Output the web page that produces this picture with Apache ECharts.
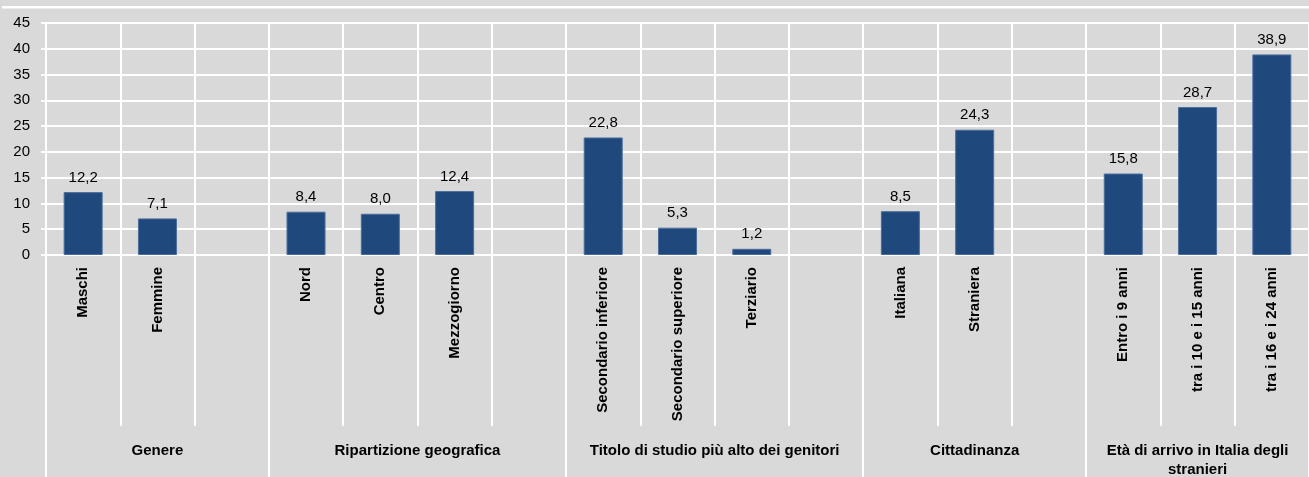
<!DOCTYPE html>
<html>
<head>
<meta charset="utf-8">
<script src="https://cdn.jsdelivr.net/npm/echarts@6/dist/echarts.min.js"></script>
<style>
  html, body { margin: 0; padding: 0; background: #d9d9d9; }
  #m1 { width: 1309px; height: 477px; }
</style>
</head>
<body>
<div id="m1"></div>
<script>
// dati del grafico (valori in %), '' = colonna vuota tra i gruppi
var categories = ['Maschi', 'Femmine', '',
    'Nord', 'Centro', 'Mezzogiorno', '',
    'Secondario inferiore', 'Secondario superiore', 'Terziario', '',
    'Italiana', 'Straniera', '',
    'Entro i 9 anni', 'tra i 10 e i 15 anni', 'tra i 16 e i 24 anni'];
var values = [12.2, 7.1, null,
    8.4, 8.0, 12.4, null,
    22.8, 5.3, 1.2, null,
    8.5, 24.3, null,
    15.8, 28.7, 38.9];
var groupNames = ['Genere', 'Ripartizione geografica', 'Titolo di studio più alto dei genitori',
    'Cittadinanza', 'Età di arrivo in Italia degli\nstranieri'];
var groupSizes = [3, 4, 4, 3, 3];   // colonne per gruppo
var yTicks = [0, 5, 10, 15, 20, 25, 30, 35, 40, 45];

var FONT = "'Liberation Sans', Arial, sans-serif";

// asse dei gruppi: mezze colonne, senza boundaryGap
// l'etichetta del gruppo va al centro del gruppo, i tick ai bordi
var halfSlots = [];
var groupTicks = {};
for (var i = 0; i <= categories.length * 2; i++) halfSlots.push('');
var start = 0;
groupTicks[0] = true;
groupSizes.forEach(function (n, g) {
    halfSlots[start * 2 + n] = groupNames[g];
    start += n;
    groupTicks[start * 2] = true;
});

var myChart = echarts.init(document.getElementById('m1'));
var option = {
    backgroundColor: '#d9d9d9',
    animation: false,
    textStyle: { fontFamily: FONT },
    grid: {
        left: 46,
        right: 0,
        top: 23,
        bottom: 222,
        outerBoundsMode: 'none'
    },
    xAxis: [{
        type: 'category',
        data: categories,
        axisLine: { show: true, lineStyle: { color: '#ffffff', width: 2 } },
        axisTick: { show: true, interval: 0, length: 171, lineStyle: { color: '#ffffff', width: 2 } },
        splitLine: { show: true, interval: 0, lineStyle: { color: '#ffffff', width: 2 } },
        axisLabel: {
            interval: 0,
            rotate: 90,
            margin: 12,
            color: '#000',
            fontFamily: FONT,
            fontSize: 15,
            fontWeight: 'bold'
        }
    }, {
        type: 'category',
        position: 'bottom',
        boundaryGap: false,
        data: halfSlots,
        axisLine: { show: false },
        axisTick: {
            show: true,
            length: 222,
            interval: function (idx) { return !!groupTicks[idx]; },
            lineStyle: { color: '#ffffff', width: 2 }
        },
        axisLabel: {
            interval: 0,
            margin: 186,
            color: '#000',
            fontFamily: FONT,
            fontSize: 15,
            fontWeight: 'bold',
            lineHeight: 19,
            verticalAlign: 'top'
        }
    }],
    yAxis: {
        type: 'value',
        min: 0,
        max: 45,
        interval: 5,
        axisLine: { show: true, lineStyle: { color: '#ffffff', width: 2 } },
        axisTick: { show: true, length: 5, lineStyle: { color: '#ffffff', width: 2 } },
        splitLine: { show: true, lineStyle: { color: '#ffffff', width: 2 } },
        axisLabel: {
            margin: 16,
            color: '#000',
            fontFamily: FONT,
            fontSize: 15,
            formatter: function (v) { return yTicks.indexOf(v) >= 0 ? String(v) : ''; }
        }
    },
    series: [{
        type: 'bar',
        data: values,
        barWidth: 39,
        itemStyle: { color: '#1f497d', borderColor: '#4a6e9c', borderWidth: 1 },
        label: {
            show: true,
            position: 'top',
            distance: 7,
            color: '#000',
            fontFamily: FONT,
            fontSize: 15,
            formatter: function (p) { return p.value.toFixed(1).replace('.', ','); }
        }
    }],
    graphic: [{
        type: 'rect',
        shape: { x: 2, y: 6, width: 1307, height: 2.5 },
        style: { fill: '#ffffff' },
        silent: true
    }]
};
myChart.setOption(option);
</script>
</body>
</html>
